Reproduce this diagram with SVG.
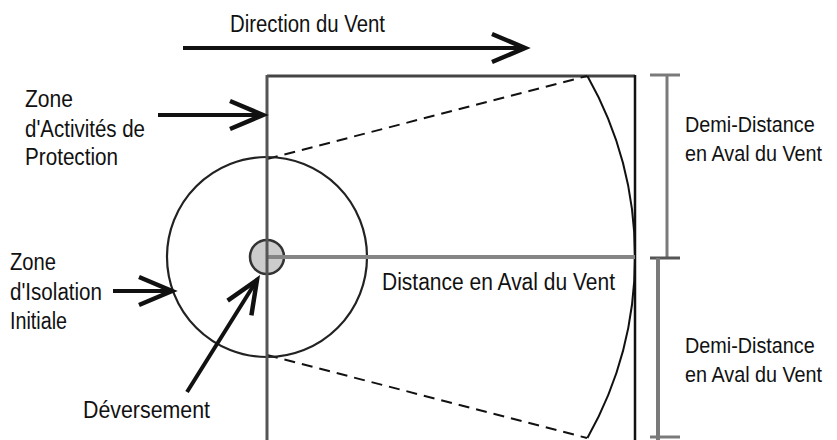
<svg xmlns="http://www.w3.org/2000/svg" width="837" height="440" viewBox="0 0 837 440">
<style>
  text { font-family: "Liberation Sans", Arial, sans-serif; font-size: 23px; fill: #111; }
  .half { font-size: 22px; }
  .arrow { stroke: #111; stroke-width: 4; fill: none; marker-end: url(#chev); }
  .dash { stroke: #111; stroke-width: 2; stroke-dasharray: 11 7; fill: none; }
  .dim { stroke: #7a7a7a; fill: none; }
</style>
<defs>
  <marker id="chev" markerUnits="userSpaceOnUse" viewBox="-40 -20 46 40" refX="0" refY="0" markerWidth="46" markerHeight="40" orient="auto" overflow="visible">
    <path d="M-33,-14 L0,0 L-33,14" fill="none" stroke="#111" stroke-width="4.5" stroke-linejoin="miter"/>
  </marker>
</defs>
<rect width="837" height="440" fill="#ffffff"/>

<g id="protective-zone">
  <line x1="267" y1="76" x2="635" y2="76" stroke="#444" stroke-width="3"/>
  <line x1="635" y1="75" x2="635" y2="440" stroke="#111" stroke-width="2.5"/>
  <line class="dash" x1="267" y1="159" x2="587" y2="76"/>
  <line class="dash" x1="267" y1="355" x2="587" y2="438"/>
  <path d="M587.4,76 A368,368 0 0 1 587.4,438" fill="none" stroke="#111" stroke-width="2"/>
</g>

<g id="isolation-zone">
  <circle cx="267" cy="257" r="100" fill="none" stroke="#222" stroke-width="2.2"/>
</g>

<g id="spill">
  <circle cx="267" cy="257" r="17" fill="#cccccc" stroke="#333" stroke-width="2.5"/>
</g>

<g id="axes">
  <line x1="267" y1="257" x2="635" y2="257" stroke="#858585" stroke-width="4"/>
  <line x1="267" y1="75" x2="267" y2="440" stroke="#555" stroke-width="3"/>
</g>

<g id="dimensions">
  <line class="dim" x1="667" y1="75" x2="667" y2="258" stroke-width="3"/>
  <line class="dim" x1="650" y1="75" x2="680" y2="75" stroke-width="3"/>
  <line x1="650" y1="258" x2="680" y2="258" stroke="#555" stroke-width="3"/>
  <line class="dim" x1="658" y1="258" x2="658" y2="440" stroke-width="4" stroke="#888"/>
  <line class="dim" x1="650" y1="437" x2="680" y2="437" stroke-width="3"/>
</g>

<g id="connectors">
  <line class="arrow" x1="183" y1="48" x2="525" y2="48"/>
  <line class="arrow" x1="158" y1="115" x2="263" y2="115"/>
  <line class="arrow" x1="113" y1="291" x2="172" y2="291"/>
  <line class="arrow" x1="187" y1="392" x2="257" y2="280"/>
</g>

<g id="label-wind">
  <text x="230" y="32" textLength="155" lengthAdjust="spacingAndGlyphs">Direction du Vent</text>
</g>
<g id="label-protection">
  <text x="25" y="107" textLength="48" lengthAdjust="spacingAndGlyphs">Zone</text>
  <text x="25" y="137" textLength="120" lengthAdjust="spacingAndGlyphs">d'Activités de</text>
  <text x="25" y="165" textLength="93" lengthAdjust="spacingAndGlyphs">Protection</text>
</g>
<g id="label-isolation">
  <text x="10" y="270" textLength="46" lengthAdjust="spacingAndGlyphs">Zone</text>
  <text x="10" y="300" textLength="92" lengthAdjust="spacingAndGlyphs">d'Isolation</text>
  <text x="10" y="329" textLength="57" lengthAdjust="spacingAndGlyphs">Initiale</text>
</g>
<g id="label-spill">
  <text x="83" y="418" textLength="127" lengthAdjust="spacingAndGlyphs">Déversement</text>
</g>
<g id="label-distance">
  <text x="382" y="290" textLength="233" lengthAdjust="spacingAndGlyphs">Distance en Aval du Vent</text>
</g>
<g id="label-half-upper">
  <text class="half" transform="translate(685,132) scale(0.9,1)">Demi-Distance</text>
  <text class="half" transform="translate(685,161) scale(0.9,1)">en Aval du Vent</text>
</g>
<g id="label-half-lower">
  <text class="half" transform="translate(685,353) scale(0.9,1)">Demi-Distance</text>
  <text class="half" transform="translate(685,382) scale(0.9,1)">en Aval du Vent</text>
</g>
</svg>
